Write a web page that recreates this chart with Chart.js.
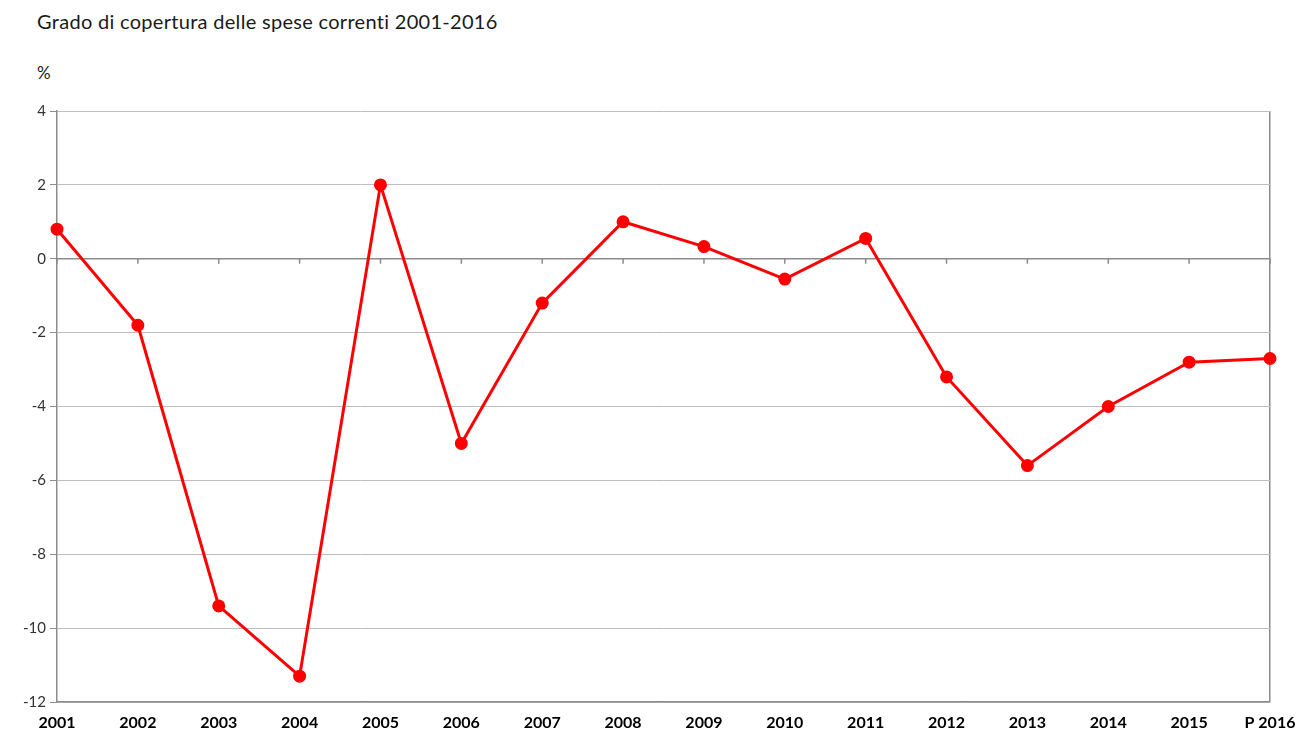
<!DOCTYPE html>
<html>
<head>
<meta charset="utf-8">
<script src="https://cdn.jsdelivr.net/npm/chart.js@4"></script>
<style>
  html, body { margin: 0; padding: 0; background: #fff; }
  #wrap { position: relative; width: 1311px; height: 734px; }
  #title { position: absolute; left: 37px; top: 9px; font: 400 20px Lato, "Open Sans", sans-serif; color: #1a1a1a; letter-spacing: 0.3px; }
  #unit { position: absolute; left: 37px; top: 62px; font: 400 17px Lato, "Open Sans", sans-serif; color: #1a1a1a; }
  canvas { position: absolute; left: 0; top: 0; }
</style>
</head>
<body>
<div id="wrap">
  <div id="title">Grado di copertura delle spese correnti 2001-2016</div>
  <div id="unit">%</div>
  <canvas id="chart" width="1311" height="734"></canvas>
</div>
<script>
const years = ["2001", "2002", "2003", "2004", "2005", "2006", "2007", "2008", "2009", "2010", "2011", "2012", "2013", "2014", "2015", "P 2016"];
const coverage = [0.8, -1.8, -9.4, -11.3, 2.0, -5.0, -1.2, 1.0, 0.33, -0.55, 0.55, -3.2, -5.6, -4.0, -2.8, -2.7];
const yTicks = [4, 2, 0, -2, -4, -6, -8, -10, -12];

const AXIS = "#8c8c8c", GRID = "#bdbdbd";

// zero line with small category ticks below it, like the original
const zeroLine = {
  id: "zeroLine",
  beforeDatasetsDraw(chart) {
    const { ctx, scales: { x, y } } = chart;
    const y0 = y.getPixelForValue(0);
    ctx.save();
    ctx.strokeStyle = AXIS;
    ctx.lineWidth = 1.5;
    ctx.beginPath();
    ctx.moveTo(x.left, y0);
    ctx.lineTo(x.right, y0);
    years.forEach((_, i) => {
      const px = x.getPixelForValue(i);
      ctx.moveTo(px, y0);
      ctx.lineTo(px, y0 + 5);
    });
    ctx.stroke();
    ctx.restore();
  }
};

new Chart(document.getElementById("chart"), {
  type: "line",
  data: {
    labels: years,
    datasets: [{
      data: coverage,
      borderColor: "#ff0000",
      backgroundColor: "#ff0000",
      borderWidth: 3,
      pointRadius: 5,
      pointHoverRadius: 5,
      tension: 0
    }]
  },
  options: {
    responsive: false,
    animation: false,
    layout: { padding: { top: 111, left: 0, right: 41, bottom: 3 } },
    plugins: { legend: { display: false }, tooltip: { enabled: false } },
    scales: {
      x: {
        offset: false,
        border: { color: AXIS, width: 1.5 },
        grid: {
          drawTicks: false,
          color: c => c.index === years.length - 1 ? AXIS : "transparent",
          lineWidth: 1.5
        },
        ticks: {
          color: "#000",
          padding: 11,
          maxRotation: 0,
          autoSkip: false,
          font: { family: "Lato, 'Open Sans', sans-serif", size: 16, weight: "bold" }
        },
        afterFit: s => { s.height = 29; }
      },
      y: {
        min: -12,
        max: 4,
        afterBuildTicks: s => { s.ticks = yTicks.map(v => ({ value: v })); },
        border: { color: AXIS, width: 1.5 },
        grid: {
          color: GRID,
          lineWidth: 1,
          drawTicks: true,
          tickLength: 7,
          tickColor: AXIS
        },
        ticks: {
          color: "#333",
          padding: 4,
          font: { family: "Lato, 'Open Sans', sans-serif", size: 15 }
        },
        afterFit: s => { s.width = 57; }
      }
    }
  },
  plugins: [zeroLine]
});
</script>
</body>
</html>
